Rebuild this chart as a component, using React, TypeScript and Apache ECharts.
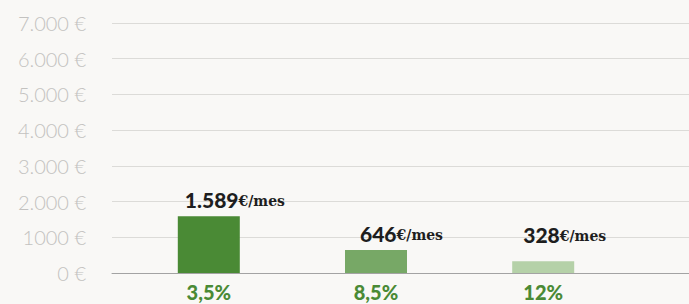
import React, { useEffect, useRef } from "react";
import * as echarts from "echarts";

const categories = ["3,5%", "8,5%", "12%"];
const values = [1589, 646, 328];
const valueTexts = ["1.589", "646", "328"];
const barColors = ["#4a8a35", "#77a866", "#b5d1a8"];
const yTickLabels = ["0 €", "1000 €", "2.000 €", "3.000 €", "4.000 €", "5.000 €", "6.000 €", "7.000 €"];

export default function App() {
  const ref = useRef<HTMLDivElement>(null);
  useEffect(() => {
    document.body.style.margin = "0";
    document.body.style.background = "#f9f8f6";
    const chart = echarts.init(ref.current!, null, { renderer: "svg" });
    const labelPos = [
      [7, -27],
      [15, -27],
      [11, -37],
    ];
    chart.setOption({
      animation: false,
      backgroundColor: "#f9f8f6",
      grid: [
        { left: 112, right: 0, top: 23, bottom: 31 },
        { left: 125.2, width: 501.6, top: 23, bottom: 31 },
      ],
      xAxis: [
        {
          gridIndex: 0,
          type: "value",
          min: 0,
          max: 1,
          axisLine: { show: true, onZero: true, lineStyle: { color: "#a3a3a3", width: 1 } },
          axisTick: { show: false },
          axisLabel: { show: false },
          splitLine: { show: false },
        },
        {
          gridIndex: 1,
          type: "category",
          data: categories,
          axisLine: { show: false },
          axisTick: { show: false },
          axisLabel: {
            color: "#4a8a35",
            fontFamily: "Lato",
            fontWeight: 900,
            fontSize: 20,
            margin: 9,
            lineHeight: 20,
          },
        },
      ],
      yAxis: [
        {
          gridIndex: 0,
          type: "value",
          min: 0,
          max: 7000,
          interval: 1000,
          axisLine: { show: false },
          axisTick: { show: false },
          axisLabel: {
            margin: 26,
            color: "#c3c2c0",
            fontFamily: "Lato",
            fontWeight: 300,
            fontSize: 20,
            formatter: (v: number) => yTickLabels[Math.round(v / 1000)] ?? "",
          },
          splitLine: { lineStyle: { color: "#dcdbd8", width: 1 } },
        },
        {
          gridIndex: 1,
          type: "value",
          min: 0,
          max: 7000,
          interval: 1000,
          show: false,
          splitLine: { show: false },
        },
      ],
      series: [
        {
          type: "bar",
          xAxisIndex: 1,
          yAxisIndex: 1,
          barWidth: 62,
          data: values.map((v, i) => ({
            value: v,
            itemStyle: { color: barColors[i] },
            label: {
              show: true,
              position: labelPos[i],
              formatter: `{n|${valueTexts[i]}}{u|€/mes}`,
              rich: {
                n: {
                  fontFamily: "Lato",
                  fontWeight: 900,
                  fontSize: 21,
                  color: "#1e1e1e",
                },
                u: {
                  fontFamily: "DejaVu Serif",
                  fontWeight: "bold",
                  fontSize: 14,
                  color: "#1e1e1e",
                  padding: [3, 0, 0, 0],
                },
              },
            },
          })),
        },
      ],
    });
    return () => chart.dispose();
  }, []);
  return <div ref={ref} style={{ width: 689, height: 304 }} />;
}
